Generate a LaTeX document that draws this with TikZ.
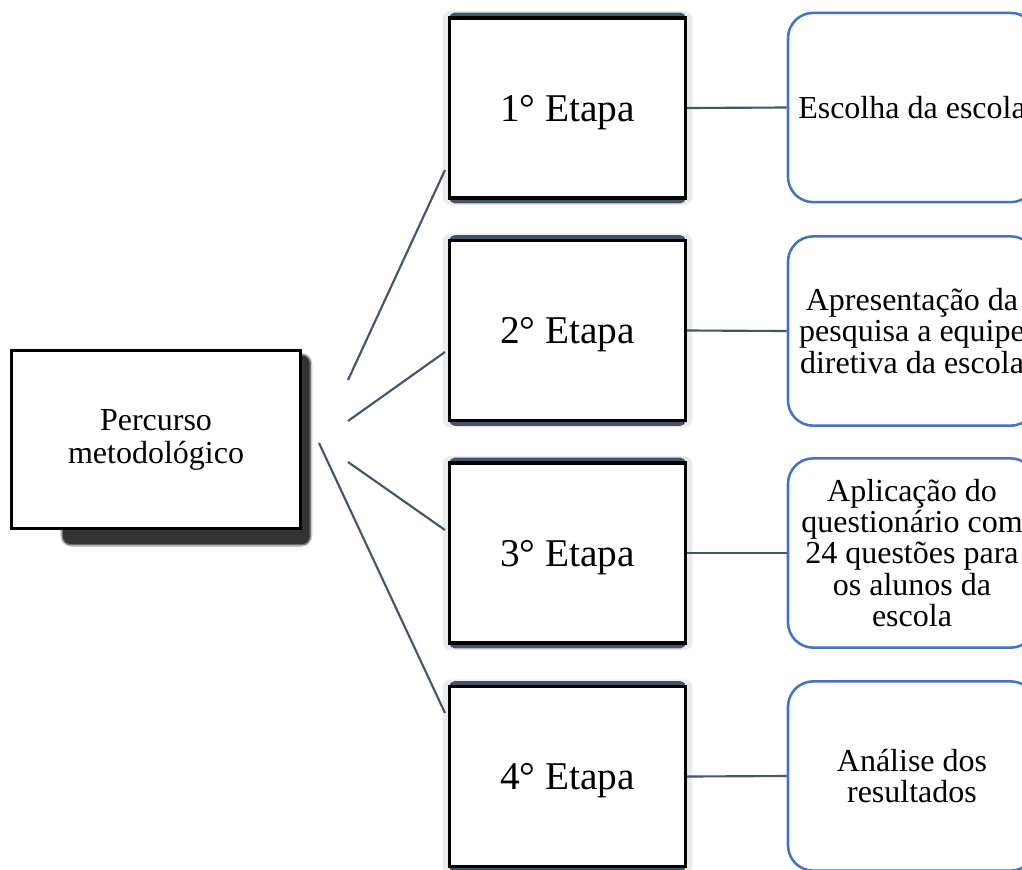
\documentclass[tikz,border=0pt]{standalone}
\usepackage{fontspec}
\setmainfont{Liberation Serif}
\usetikzlibrary{backgrounds}
\definecolor{slate}{HTML}{44546A}
\definecolor{wordblue}{HTML}{4472C4}
\tikzset{
  raiz/.style={draw, line width=2.4pt, fill=white, inner sep=0pt,
    minimum width=217pt, minimum height=133.5pt, align=center,
    font=\fontsize{24}{24.75}\selectfont},
  etapa/.style={draw, line width=2.4pt, fill=white, inner sep=0pt,
    minimum width=177pt, minimum height=135pt, text depth=0pt,
    font=\fontsize{29.5}{34}\selectfont},
  passo/.style={draw=wordblue, line width=1.9pt, fill=white, rounded corners=19pt,
    inner sep=0pt, minimum width=186pt, minimum height=142pt, align=center,
    font=\fontsize{24}{23.5}\selectfont},
  ramo/.style={slate, line width=1.6pt}
}
\begin{document}
\begin{tikzpicture}[x=0.75pt, y=0.75pt]
\useasboundingbox (0,0) rectangle (1022,-869);
\clip (0,0) rectangle (1022,-869);

\node[raiz] (root) at (156,-439.5) {Percurso\\metodológico};

\node[etapa] (e1) at (567.5,-108) {1° Etapa};
\node[etapa] (e2) at (567.5,-330.5) {2° Etapa};
\node[etapa] (e3) at (567.5,-553) {3° Etapa};
\node[etapa] (e4) at (567.5,-776.5) {4° Etapa};

\node[passo] (p1) at (912,-107.5) {Escolha da escola};
\node[passo] (p2) at (912,-331) {Apresentação da\\pesquisa a equipe\\diretiva da escola};
\node[passo] (p3) at (912,-553) {Aplicação do\\questionário com\\24 questões para\\os alunos da\\escola};
\node[passo] (p4) at (912,-776) {Análise dos\\resultados};

% shadows
\begin{scope}[on background layer]
\fill[white] (0,0) rectangle (1022,-869);
\fill[black!20, rounded corners=8pt] ([xshift=38pt,yshift=-3pt]root.north west) rectangle ([xshift=7.5pt,yshift=-12.5pt]root.south east);
\fill[black!55, rounded corners=7pt] ([xshift=39pt,yshift=-4pt]root.north west) rectangle ([xshift=6.5pt,yshift=-11.5pt]root.south east);
\fill[black!80, rounded corners=6pt] ([xshift=40pt,yshift=-5pt]root.north west) rectangle ([xshift=5.5pt,yshift=-10.5pt]root.south east);
\fill[black!8, rounded corners=6pt] ([xshift=-4pt,yshift=4pt]e1.north west) rectangle ([xshift=4pt,yshift=-4pt]e1.south east);
\fill[black!8, rounded corners=6pt] ([xshift=-4pt,yshift=4pt]e2.north west) rectangle ([xshift=4pt,yshift=-4pt]e2.south east);
\fill[black!8, rounded corners=6pt] ([xshift=-4pt,yshift=4pt]e3.north west) rectangle ([xshift=4pt,yshift=-4pt]e3.south east);
\fill[black!8, rounded corners=6pt] ([xshift=-4pt,yshift=4pt]e4.north west) rectangle ([xshift=4pt,yshift=-4pt]e4.south east);
\fill[slate, rounded corners=4pt] ([xshift=1pt,yshift=2.8pt]e1.north west) rectangle ([xshift=-1pt,yshift=-2.8pt]e1.south east);
\fill[slate, rounded corners=4pt] ([xshift=1pt,yshift=2.8pt]e2.north west) rectangle ([xshift=-1pt,yshift=-2.8pt]e2.south east);
\fill[slate, rounded corners=4pt] ([xshift=1pt,yshift=2.8pt]e3.north west) rectangle ([xshift=-1pt,yshift=-2.8pt]e3.south east);
\fill[slate, rounded corners=4pt] ([xshift=1pt,yshift=2.8pt]e4.north west) rectangle ([xshift=-1pt,yshift=-2.8pt]e4.south east);
\end{scope}

% connectors from the root
\coordinate (c1a) at (348,-380); \coordinate (c1b) at (445,-170);
\coordinate (c2a) at (348,-421); \coordinate (c2b) at (445,-352);
\coordinate (c3a) at (348,-462); \coordinate (c3b) at (445,-530);
\coordinate (c4a) at (319,-443); \coordinate (c4b) at (445,-713);
\draw[ramo] (c1a) -- (c1b);
\draw[ramo] (c2a) -- (c2b);
\draw[ramo] (c3a) -- (c3b);
\draw[ramo] (c4a) -- (c4b);

\draw[ramo] (e1.east) -- (p1.west);
\draw[ramo] (e2.east) -- (p2.west);
\draw[ramo] (e3.east) -- (p3.west);
\draw[ramo] (e4.east) -- (p4.west);
\end{tikzpicture}
\end{document}
